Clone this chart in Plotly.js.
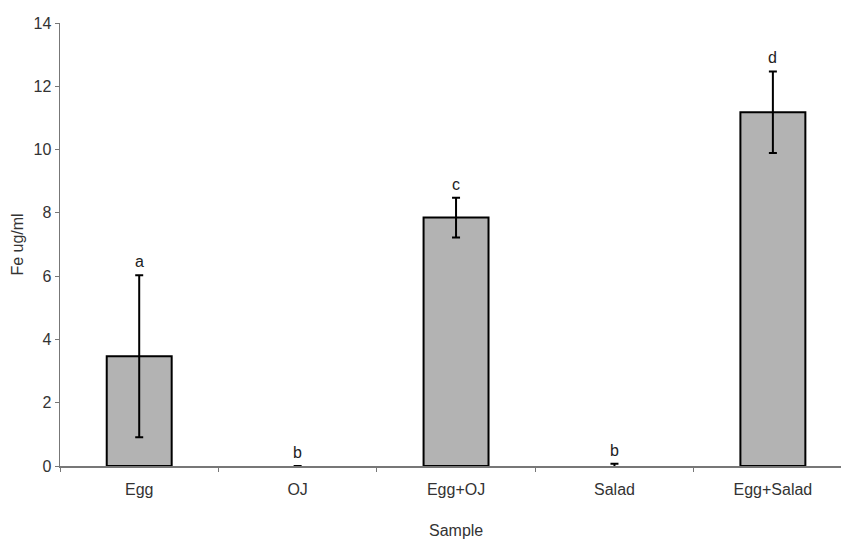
<!DOCTYPE html>
<html>
<head>
<meta charset="utf-8">
<script src="https://cdn.plot.ly/plotly-3.0.1.min.js"></script>
<style>html,body{margin:0;padding:0;background:#fff;}#chart{width:841px;height:541px;}</style>
</head>
<body>
<div id="chart"></div>
<script>
const categories = ["Egg", "OJ", "Egg+OJ", "Salad", "Egg+Salad"];
const means = [3.47, 0, 7.85, 0.02, 11.18];
const errors = [2.56, null, 0.63, 0.05, 1.29];
const letters = ["a", "b", "c", "b", "d"];

const FONT = "Liberation Sans, Arial, sans-serif";

const trace = {
  type: "bar",
  x: categories,
  y: means,
  width: 0.41,
  marker: {
    color: means.map(v => v > 0.5 ? "#b3b3b3" : "rgba(0,0,0,0)"),
    line: {color: "#000", width: means.map(v => v > 0.5 ? 2 : 0)}
  },
  error_y: {type: "data", array: errors, visible: true, color: "#000", thickness: 2, width: 4},
  hoverinfo: "skip"
};

const annotations = categories.map((c, i) => ({
  x: c, y: means[i] + (errors[i] || 0), text: letters[i], showarrow: false,
  yanchor: "bottom", yshift: 3,
  font: {family: FONT, size: 16, color: "#222"}
}));

annotations.push({
  x: categories[2], xref: "x", y: 0, yref: "paper", text: "Sample", showarrow: false,
  yanchor: "middle", xanchor: "center",
  font: {family: FONT, size: 16, color: "#333"}
});

const layout = {
  width: 841, height: 541,
  margin: {l: 60, r: 0, t: 23, b: 74.5, pad: 0},
  paper_bgcolor: "#fff", plot_bgcolor: "#fff",
  showlegend: false,
  font: {family: FONT, size: 16, color: "#333"},
  xaxis: {
    type: "category", range: [-0.5, 4.43],
    showline: true, linecolor: "#777", linewidth: 1.5,
    ticks: "outside", tickson: "boundaries", ticklen: 4, tickcolor: "#777",
    ticklabelstandoff: 8,
    showgrid: false, zeroline: false
  },
  yaxis: {
    range: [0, 14], dtick: 2,
    showline: true, linecolor: "#777", linewidth: 1.5,
    ticks: "outside", ticklen: 4, tickcolor: "#777",
    showgrid: false, zeroline: false,
    title: {text: "Fe ug/ml", standoff: 6, font: {size: 16, color: "#333"}}
  },
  annotations: annotations
};
// place "Sample" in paper pixel coords
layout.annotations[layout.annotations.length - 1].y = 1 - (531 - 23) / (541 - 23 - 74.5);

Plotly.newPlot("chart", [trace], layout, {displayModeBar: false, staticPlot: true});
</script>
</body>
</html>
